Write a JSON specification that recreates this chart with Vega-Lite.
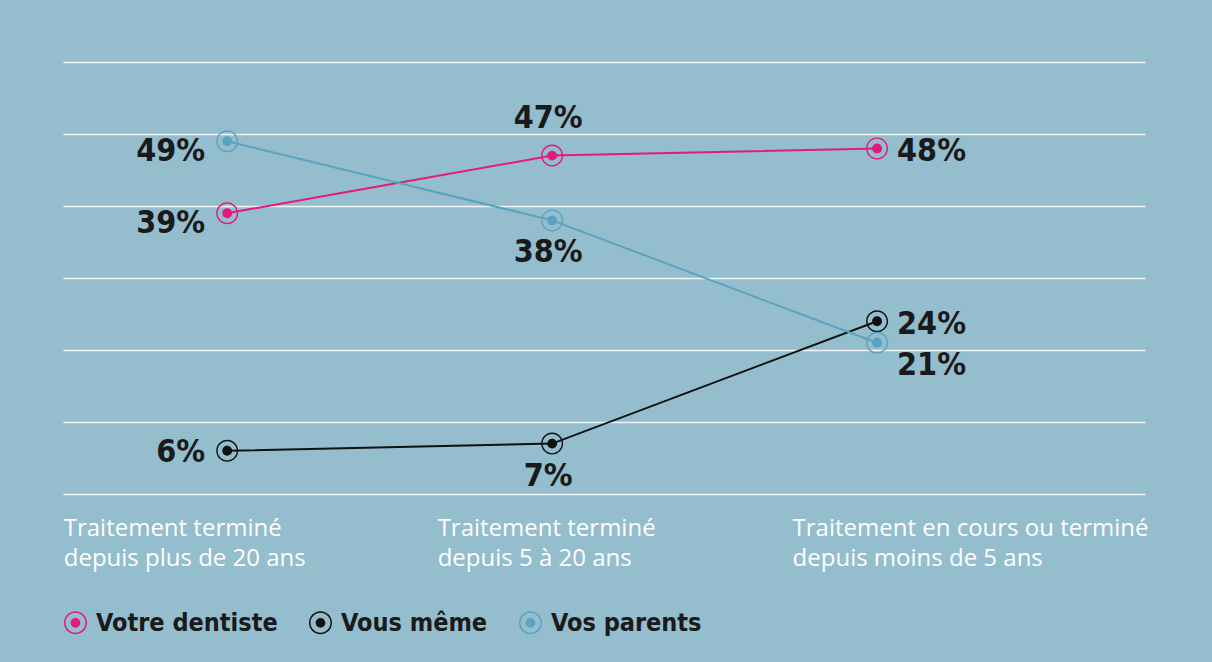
{
  "$schema": "https://vega.github.io/schema/vega-lite/v6.json",
  "autosize": {"type": "none"},
  "width": 1082,
  "height": 432,
  "padding": {"left": 63, "top": 62, "right": 67, "bottom": 168},
  "background": "#94bdcd",
  "config": {
    "view": {"stroke": null},
    "font": "Open Sans"
  },
  "data": {
    "values": [
      {"etape": "Traitement terminé|depuis plus de 20 ans", "serie": "Votre dentiste", "part": 0.39},
      {"etape": "Traitement terminé|depuis 5 à 20 ans", "serie": "Votre dentiste", "part": 0.47},
      {"etape": "Traitement en cours ou terminé|depuis moins de 5 ans", "serie": "Votre dentiste", "part": 0.48},
      {"etape": "Traitement terminé|depuis plus de 20 ans", "serie": "Vous même", "part": 0.06},
      {"etape": "Traitement terminé|depuis 5 à 20 ans", "serie": "Vous même", "part": 0.07},
      {"etape": "Traitement en cours ou terminé|depuis moins de 5 ans", "serie": "Vous même", "part": 0.24},
      {"etape": "Traitement terminé|depuis plus de 20 ans", "serie": "Vos parents", "part": 0.49},
      {"etape": "Traitement terminé|depuis 5 à 20 ans", "serie": "Vos parents", "part": 0.38},
      {"etape": "Traitement en cours ou terminé|depuis moins de 5 ans", "serie": "Vos parents", "part": 0.21}
    ]
  },
  "encoding": {
    "x": {
      "field": "etape",
      "type": "ordinal",
      "sort": null,
      "scale": {"type": "point", "padding": 0.665, "align": 0.38},
      "axis": {
        "title": null,
        "domain": false,
        "ticks": false,
        "grid": false,
        "labelExpr": "split(datum.label, '|')",
        "labelAngle": 0,
        "labelAlign": "left",
        "labelBaseline": "top",
        "labelPadding": 22,
        "labelLineHeight": 30,
        "labelFont": "Open Sans",
        "labelFontSize": 24,
        "labelColor": "#ffffff",
        "labelLimit": 500,
        "labelOverlap": false,
        "labelFlush": false,
        "labelBound": false,
        "labelOffset": {"expr": "datum.index < 0.25 ? -164 : datum.index < 0.75 ? -115 : -85"}
      }
    },
    "y": {
      "field": "part",
      "type": "quantitative",
      "scale": {"domain": [0, 0.6], "nice": false},
      "axis": {
        "title": null,
        "domain": false,
        "ticks": false,
        "labels": false,
        "values": [0, 0.1, 0.2, 0.3, 0.4, 0.5, 0.6],
        "grid": true,
        "gridColor": "#ffffff",
        "gridOpacity": 0.85,
        "gridWidth": 1.5
      }
    },
    "color": {
      "field": "serie",
      "type": "nominal",
      "scale": {
        "domain": ["Votre dentiste", "Vous même", "Vos parents"],
        "range": ["#e5197c", "#111111", "#5aa3c0"]
      },
      "legend": {
        "title": null,
        "orient": "bottom",
        "direction": "horizontal",
        "offset": 40,
        "symbolType": "M1,0A1,1 0 1,1 -1,0A1,1 0 1,1 1,0ZM0.87,0A0.87,0.87 0 1,0 -0.87,0A0.87,0.87 0 1,0 0.87,0ZM0.42,0A0.42,0.42 0 1,1 -0.42,0A0.42,0.42 0 1,1 0.42,0Z",
        "symbolSize": 529,
        "symbolStrokeWidth": 0,
        "symbolOpacity": 1,
        "labelFont": "DejaVu Sans Condensed, Roboto, sans-serif",
        "labelFontWeight": "bold",
        "labelFontSize": 25,
        "labelColor": "#1a1a1a",
        "labelOffset": 8,
        "columnPadding": 30,
        "labelLimit": 400
      }
    }
  },
  "layer": [
    {
      "mark": {"type": "line", "strokeWidth": 2}
    },
    {
      "mark": {
        "type": "point",
        "filled": true,
        "opacity": 1,
        "size": 484,
        "shape": "M1,0A1,1 0 1,1 -1,0A1,1 0 1,1 1,0ZM0.87,0A0.87,0.87 0 1,0 -0.87,0A0.87,0.87 0 1,0 0.87,0ZM0.45,0A0.45,0.45 0 1,1 -0.45,0A0.45,0.45 0 1,1 0.45,0Z"
      }
    },
    {
      "transform": [{"filter": "datum.etape == 'Traitement terminé|depuis plus de 20 ans' && datum.serie != 'Vous même'"}],
      "mark": {"type": "text", "align": "right", "baseline": "middle", "dx": -22, "dy": 10, "font": "DejaVu Sans Condensed, Roboto, sans-serif", "fontWeight": "bold", "fontSize": 32},
      "encoding": {"text": {"field": "part", "type": "quantitative", "format": ".0%"}, "color": {"value": "#1a1a1a"}}
    },
    {
      "transform": [{"filter": "datum.etape == 'Traitement terminé|depuis plus de 20 ans' && datum.serie == 'Vous même'"}],
      "mark": {"type": "text", "align": "right", "baseline": "middle", "dx": -22, "dy": 1, "font": "DejaVu Sans Condensed, Roboto, sans-serif", "fontWeight": "bold", "fontSize": 32},
      "encoding": {"text": {"field": "part", "type": "quantitative", "format": ".0%"}, "color": {"value": "#1a1a1a"}}
    },
    {
      "transform": [{"filter": "datum.etape == 'Traitement terminé|depuis 5 à 20 ans' && datum.serie == 'Votre dentiste'"}],
      "mark": {"type": "text", "align": "center", "baseline": "middle", "dx": -4, "dy": -38, "font": "DejaVu Sans Condensed, Roboto, sans-serif", "fontWeight": "bold", "fontSize": 32},
      "encoding": {"text": {"field": "part", "type": "quantitative", "format": ".0%"}, "color": {"value": "#1a1a1a"}}
    },
    {
      "transform": [{"filter": "datum.etape == 'Traitement terminé|depuis 5 à 20 ans' && datum.serie != 'Votre dentiste'"}],
      "mark": {"type": "text", "align": "center", "baseline": "middle", "dx": -4, "dy": 32, "font": "DejaVu Sans Condensed, Roboto, sans-serif", "fontWeight": "bold", "fontSize": 32},
      "encoding": {"text": {"field": "part", "type": "quantitative", "format": ".0%"}, "color": {"value": "#1a1a1a"}}
    },
    {
      "transform": [{"filter": "datum.etape == 'Traitement en cours ou terminé|depuis moins de 5 ans' && datum.serie != 'Vos parents'"}],
      "mark": {"type": "text", "align": "left", "baseline": "middle", "dx": 20, "dy": 3, "font": "DejaVu Sans Condensed, Roboto, sans-serif", "fontWeight": "bold", "fontSize": 32},
      "encoding": {"text": {"field": "part", "type": "quantitative", "format": ".0%"}, "color": {"value": "#1a1a1a"}}
    },
    {
      "transform": [{"filter": "datum.etape == 'Traitement en cours ou terminé|depuis moins de 5 ans' && datum.serie == 'Vos parents'"}],
      "mark": {"type": "text", "align": "left", "baseline": "middle", "dx": 20, "dy": 22, "font": "DejaVu Sans Condensed, Roboto, sans-serif", "fontWeight": "bold", "fontSize": 32},
      "encoding": {"text": {"field": "part", "type": "quantitative", "format": ".0%"}, "color": {"value": "#1a1a1a"}}
    }
  ]
}
